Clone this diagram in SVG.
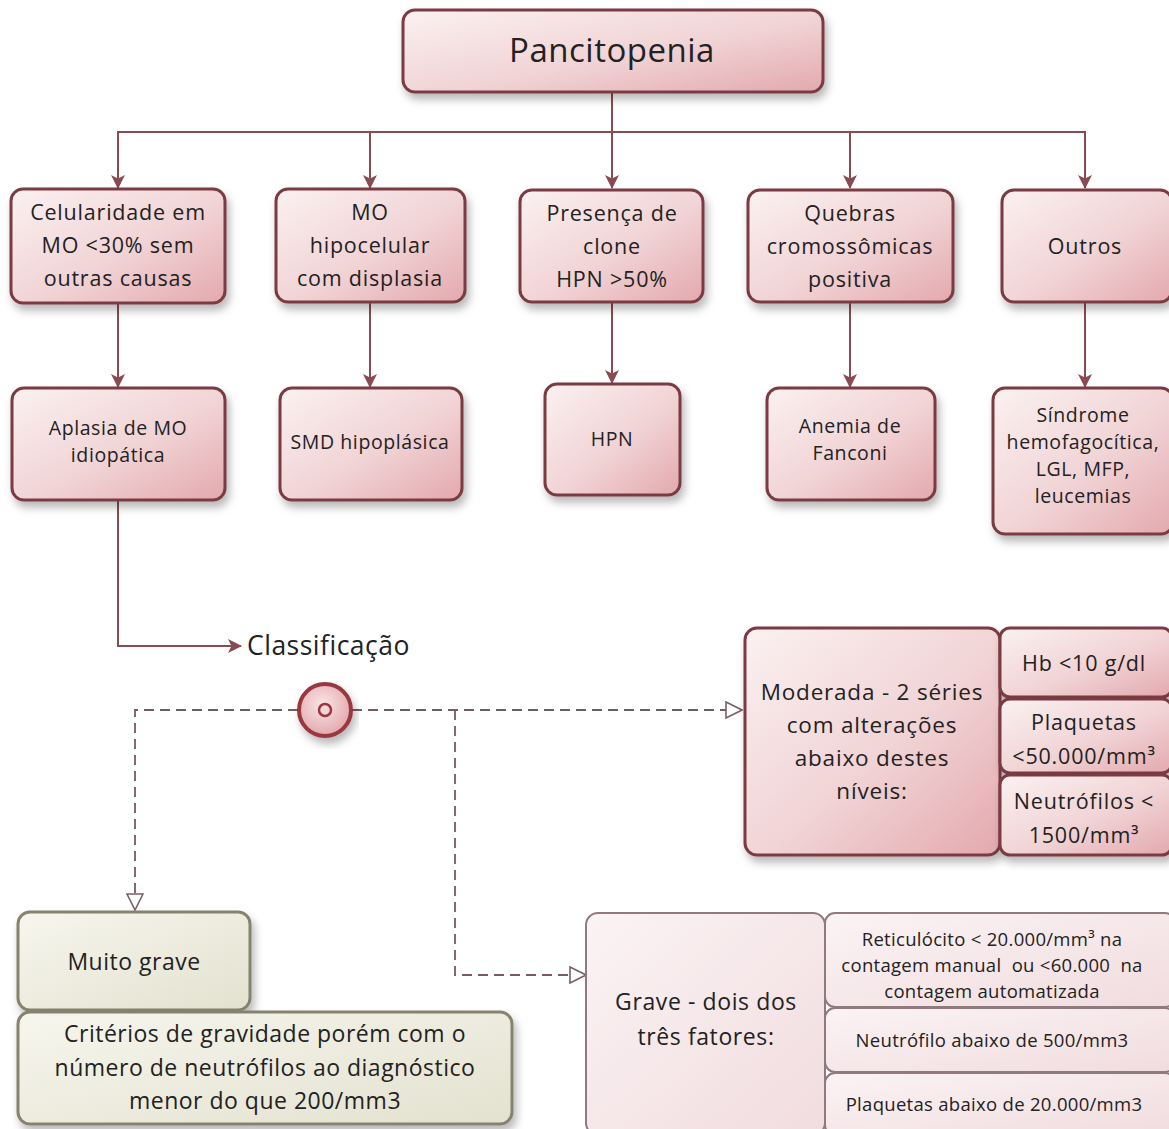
<svg xmlns="http://www.w3.org/2000/svg" width="1169" height="1129" viewBox="0 0 1169 1129">
<defs>
<linearGradient id="pink" x1="0" y1="0" x2="1" y2="1">
<stop offset="0" stop-color="#fbf1f1"/>
<stop offset="0.55" stop-color="#f1d3d5"/>
<stop offset="1" stop-color="#e3a9ae"/>
</linearGradient>
<linearGradient id="pinkLight" x1="0" y1="0" x2="1" y2="1">
<stop offset="0" stop-color="#fbf3f4"/>
<stop offset="1" stop-color="#f1dcdf"/>
</linearGradient>
<linearGradient id="beige" x1="0" y1="0" x2="1" y2="1">
<stop offset="0" stop-color="#f7f6ee"/>
<stop offset="1" stop-color="#e3e1cf"/>
</linearGradient>
<radialGradient id="disc" cx="0.45" cy="0.4" r="0.6">
<stop offset="0" stop-color="#fae6e6"/>
<stop offset="1" stop-color="#e3a8ad"/>
</radialGradient>
<filter id="sh" x="-10%" y="-10%" width="125%" height="135%">
<feDropShadow dx="3" dy="6" stdDeviation="4" flood-color="#000" flood-opacity="0.28"/>
</filter>
<marker id="arr" viewBox="0 0 14 14" refX="13" refY="7" markerWidth="14" markerHeight="14" markerUnits="userSpaceOnUse" orient="auto">
<path d="M0,0 L14,7 L0,14 L3.5,7 Z" fill="#8a4a52"/>
</marker>
<marker id="open" viewBox="0 0 18 18" refX="17" refY="9" markerWidth="18" markerHeight="18" markerUnits="userSpaceOnUse" orient="auto">
<path d="M1,1 L17,9 L1,17 Z" fill="#fff" stroke="#7a6066" stroke-width="1.6"/>
</marker>
</defs>
<style>
.n{fill:url(#pink);stroke:#7a3a42;stroke-width:3;filter:url(#sh)}
.nl{fill:url(#pinkLight);stroke:#8e7a80;stroke-width:2}
.b{fill:url(#beige);stroke:#85836f;stroke-width:3;filter:url(#sh)}
.t{font-family:"Open Sans","Noto Sans",sans-serif;fill:#222;text-anchor:middle;white-space:pre}
.r1{font-size:21.5px;letter-spacing:0.8px}
.r2{font-size:19.5px;letter-spacing:0.6px}
.m{font-size:22.5px;letter-spacing:0.8px}
.mr{font-size:21.5px;letter-spacing:0.8px}
.g{font-size:23px;letter-spacing:0.6px}
.gs{font-size:18.5px;letter-spacing:0.3px}
.bg{font-size:23px;letter-spacing:0.5px}
.c{fill:none;stroke:#8a4a52;stroke-width:2}
.d{fill:none;stroke:#7a5a60;stroke-width:1.8;stroke-dasharray:10 6}
</style>
<rect width="1169" height="1129" fill="#fff"/>

<g id="connectors">
<path class="c" d="M612,92 V188" marker-end="url(#arr)"/>
<path class="c" d="M612,132 H118 V188" marker-end="url(#arr)"/>
<path class="c" d="M370,132 V188" marker-end="url(#arr)"/>
<path class="c" d="M612,132 H1085 V188" marker-end="url(#arr)"/>
<path class="c" d="M850,132 V188" marker-end="url(#arr)"/>
<path class="c" d="M118,303 V387" marker-end="url(#arr)"/>
<path class="c" d="M370,302 V387" marker-end="url(#arr)"/>
<path class="c" d="M612,302 V383" marker-end="url(#arr)"/>
<path class="c" d="M850,302 V387" marker-end="url(#arr)"/>
<path class="c" d="M1085,302 V387" marker-end="url(#arr)"/>
<path class="c" d="M118,500 V646 H241" marker-end="url(#arr)"/>
<path class="d" d="M298,710 H135 V910" marker-end="url(#open)"/>
<path class="d" d="M352,710 H742" marker-end="url(#open)"/>
<path class="d" d="M455,710 V975 H586" marker-end="url(#open)"/>
</g>

<g id="pancitopenia">
<rect class="n" x="403" y="10" width="420" height="82" rx="12"/>
<text class="t" x="612" y="62" font-size="33" letter-spacing="0.5">Pancitopenia</text>
</g>

<g id="celularidade">
<rect class="n" x="11" y="189" width="214" height="114" rx="12"/>
<text class="t r1" x="118" y="220">Celularidade em</text>
<text class="t r1" x="118" y="253">MO &lt;30% sem</text>
<text class="t r1" x="118" y="286">outras causas</text>
</g>

<g id="hipocelular">
<rect class="n" x="276" y="189" width="189" height="113" rx="12"/>
<text class="t r1" x="370" y="220">MO</text>
<text class="t r1" x="370" y="253">hipocelular</text>
<text class="t r1" x="370" y="286">com displasia</text>
</g>

<g id="hpnclone">
<rect class="n" x="520" y="190" width="183" height="112" rx="12"/>
<text class="t r1" x="612" y="221">Presença de</text>
<text class="t r1" x="612" y="254">clone</text>
<text class="t r1" x="612" y="287">HPN &gt;50%</text>
</g>

<g id="quebras">
<rect class="n" x="748" y="190" width="205" height="112" rx="12"/>
<text class="t r1" x="850" y="221">Quebras</text>
<text class="t r1" x="850" y="254">cromossômicas</text>
<text class="t r1" x="850" y="287">positiva</text>
</g>

<g id="outros">
<rect class="n" x="1002" y="190" width="170" height="112" rx="12"/>
<text class="t r1" x="1085" y="254">Outros</text>
</g>

<g id="aplasia">
<rect class="n" x="12" y="388" width="213" height="112" rx="12"/>
<text class="t r2" x="118" y="435">Aplasia de MO</text>
<text class="t r2" x="118" y="462">idiopática</text>
</g>

<g id="smd">
<rect class="n" x="280" y="388" width="182" height="112" rx="12"/>
<text class="t r2" x="370" y="449">SMD hipoplásica</text>
</g>

<g id="hpn">
<rect class="n" x="545" y="384" width="135" height="111" rx="12"/>
<text class="t r2" x="612" y="446">HPN</text>
</g>

<g id="fanconi">
<rect class="n" x="767" y="388" width="168" height="112" rx="12"/>
<text class="t r2" x="850" y="433">Anemia de</text>
<text class="t r2" x="850" y="460">Fanconi</text>
</g>

<g id="outrosDx">
<rect class="n" x="993" y="388" width="180" height="146" rx="12"/>
<text class="t r2" x="1083" y="422">Síndrome</text>
<text class="t r2" x="1083" y="449">hemofagocítica,</text>
<text class="t r2" x="1083" y="476">LGL, MFP,</text>
<text class="t r2" x="1083" y="503">leucemias</text>
</g>

<g id="classificacao">
<text class="t" x="247" y="655" font-size="26.5" letter-spacing="0.5" style="text-anchor:start">Classificação</text>
</g>

<g id="gateway">
<circle cx="325" cy="710" r="26" fill="url(#disc)" stroke="#9a3841" stroke-width="4" filter="url(#sh)"/>
<circle cx="325" cy="710" r="6" fill="#f3d6d8" stroke="#9a3841" stroke-width="2.5"/>
</g>

<g id="moderada">
<rect class="n" x="745" y="628" width="255" height="227" rx="12"/>
<text class="t m" x="872" y="700">Moderada - 2 séries</text>
<text class="t m" x="872" y="733">com alterações</text>
<text class="t m" x="872" y="766">abaixo destes</text>
<text class="t m" x="872" y="799">níveis:</text>
<rect class="n" x="1000" y="628" width="172" height="69" rx="10"/>
<text class="t mr" x="1084" y="671">Hb &lt;10 g/dl</text>
<rect class="n" x="1000" y="699" width="172" height="74" rx="10"/>
<text class="t mr" x="1084" y="730">Plaquetas</text>
<text class="t mr" x="1084" y="764">&lt;50.000/mm³</text>
<rect class="n" x="1000" y="775" width="172" height="80" rx="10"/>
<text class="t mr" x="1084" y="809">Neutrófilos &lt;</text>
<text class="t mr" x="1084" y="843">1500/mm³</text>
</g>

<g id="grave">
<rect class="nl" x="586" y="913" width="239" height="222" rx="12"/>
<text class="t g" x="706" y="1010">Grave - dois dos</text>
<text class="t g" x="706" y="1045">três fatores:</text>
<rect class="nl" x="825" y="913" width="350" height="94" rx="10"/>
<text class="t gs" x="992" y="946">Reticulócito &lt; 20.000/mm³ na</text>
<text class="t gs" x="992" y="972">contagem manual  ou &lt;60.000  na</text>
<text class="t gs" x="992" y="998">contagem automatizada</text>
<rect class="nl" x="825" y="1008" width="350" height="64" rx="10"/>
<text class="t gs" x="992" y="1047">Neutrófilo abaixo de 500/mm3</text>
<rect class="nl" x="825" y="1073" width="350" height="62" rx="10"/>
<text class="t gs" x="994" y="1111">Plaquetas abaixo de 20.000/mm3</text>
</g>

<g id="muitoGrave">
<rect class="b" x="18" y="912" width="232" height="98" rx="12"/>
<text class="t bg" x="134" y="970">Muito grave</text>
</g>

<g id="criterios">
<rect class="b" x="18" y="1012" width="494" height="112" rx="12"/>
<text class="t bg" x="265" y="1042">Critérios de gravidade porém com o</text>
<text class="t bg" x="265" y="1076">número de neutrófilos ao diagnóstico</text>
<text class="t bg" x="265" y="1109">menor do que 200/mm3</text>
</g>
</svg>
